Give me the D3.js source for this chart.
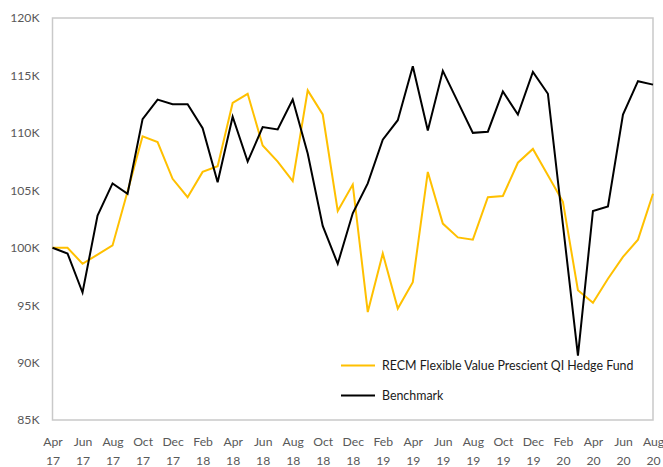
<!DOCTYPE html>
<html>
<head>
<meta charset="utf-8">
<script src="https://cdn.jsdelivr.net/npm/d3@7"></script>
<style>
  body { margin: 0; background: #fff; }
  text { font-family: Lato, "Open Sans", sans-serif; }
</style>
</head>
<body>
<script>
// size and margins
var w = 663;
var h = 467;
var margin = {top: 18, right: 10, bottom: 47, left: 52.5};

// months, Apr 17 .. Aug 20
var months = ["Apr 17","May 17","Jun 17","Jul 17","Aug 17","Sep 17","Oct 17","Nov 17","Dec 17",
  "Jan 18","Feb 18","Mar 18","Apr 18","May 18","Jun 18","Jul 18","Aug 18","Sep 18","Oct 18","Nov 18","Dec 18",
  "Jan 19","Feb 19","Mar 19","Apr 19","May 19","Jun 19","Jul 19","Aug 19","Sep 19","Oct 19","Nov 19","Dec 19",
  "Jan 20","Feb 20","Mar 20","Apr 20","May 20","Jun 20","Jul 20","Aug 20"];

// values in thousands
var fund = [100.0, 100.0, 98.6, 99.4, 100.2, 104.9, 109.7, 109.2, 106.0,
  104.4, 106.6, 107.1, 112.6, 113.4, 108.9, 107.5, 105.8, 113.7, 111.6, 103.2, 105.5,
  94.4, 99.5, 94.7, 97.0, 106.6, 102.1, 100.9, 100.7, 104.4, 104.5, 107.4, 108.6,
  106.3, 104.0, 96.3, 95.2, 97.3, 99.2, 100.7, 104.7];
var benchmark = [100.0, 99.5, 96.1, 102.8, 105.6, 104.7, 111.2, 112.9, 112.5,
  112.5, 110.4, 105.7, 111.4, 107.5, 110.5, 110.3, 112.9, 108.2, 101.9, 98.6, 103.0,
  105.6, 109.4, 111.1, 115.8, 110.2, 115.4, 112.7, 110.0, 110.1, 113.6, 111.6, 115.3,
  113.4, 102.0, 90.6, 103.2, 103.6, 111.6, 114.5, 114.2];

var yTicks = [85, 90, 95, 100, 105, 110, 115, 120];
var seriesNames = ["RECM Flexible Value Prescient QI Hedge Fund", "Benchmark"];
var seriesColors = ["#ffc000", "#000000"];

var svg = d3.select("body").append("svg")
  .attr("width", w)
  .attr("height", h);

/*** Scales ***/
var xScale = d3.scalePoint()
  .domain(months)
  .range([margin.left, w - margin.right]);
var yScale = d3.scaleLinear()
  .domain([85, 120])
  .range([h - margin.bottom, margin.top]);

/*** Frame ***/
svg.append("rect")
  .attr("x", margin.left)
  .attr("y", margin.top)
  .attr("width", w - margin.right - margin.left)
  .attr("height", h - margin.bottom - margin.top)
  .attr("fill", "none")
  .attr("stroke", "#c9c9c9")
  .attr("stroke-width", 1.5);

/*** Axes ***/
var yAxis = d3.axisLeft(yScale)
  .tickValues(yTicks)
  .tickSize(0)
  .tickPadding(13)
  .tickFormat(function(d) { return d + "K"; });
var gy = svg.append("g")
  .attr("transform", "translate(" + margin.left + ",0)")
  .call(yAxis);
gy.select(".domain").remove();
gy.selectAll("text")
  .attr("font-size", 12.2)
  .attr("fill", "#595959")
  .attr("font-family", "Lato, sans-serif");

var xAxis = d3.axisBottom(xScale)
  .tickValues(months.filter(function(d, i) { return i % 2 === 0; }))
  .tickSize(0)
  .tickFormat("");
var gx = svg.append("g")
  .attr("transform", "translate(0," + (h - margin.bottom) + ")")
  .call(xAxis);
gx.select(".domain").remove();
gx.selectAll(".tick text").each(function(d) {
  var parts = d.split(" ");
  var t = d3.select(this)
    .attr("y", 0)
    .attr("dy", null)
    .attr("font-size", 12.2)
    .attr("fill", "#595959")
    .attr("font-family", "Lato, sans-serif");
  t.append("tspan").attr("x", 0).attr("y", 26).text(parts[0]);
  t.append("tspan").attr("x", 0).attr("y", 45).text(parts[1]);
});

/*** Lines ***/
var line = d3.line()
  .x(function(d, i) { return xScale(months[i]); })
  .y(function(d) { return yScale(d); });

[fund, benchmark].forEach(function(s, k) {
  svg.append("path")
    .datum(s)
    .attr("fill", "none")
    .attr("stroke", seriesColors[k])
    .attr("stroke-width", 2)
    .attr("stroke-linejoin", "miter")
    .attr("d", line);
});

/*** Legend ***/
var legend = svg.append("g").attr("transform", "translate(341,365.5)");
seriesNames.forEach(function(name, k) {
  var g = legend.append("g").attr("transform", "translate(0," + (k * 30) + ")");
  g.append("line")
    .attr("x1", 0).attr("x2", 34)
    .attr("stroke", seriesColors[k])
    .attr("stroke-width", 2);
  g.append("text")
    .attr("x", 41)
    .attr("dy", "0.35em")
    .attr("font-size", 12.4)
    .attr("fill", "#1a1a1a")
    .text(name);
});
</script>
</body>
</html>
